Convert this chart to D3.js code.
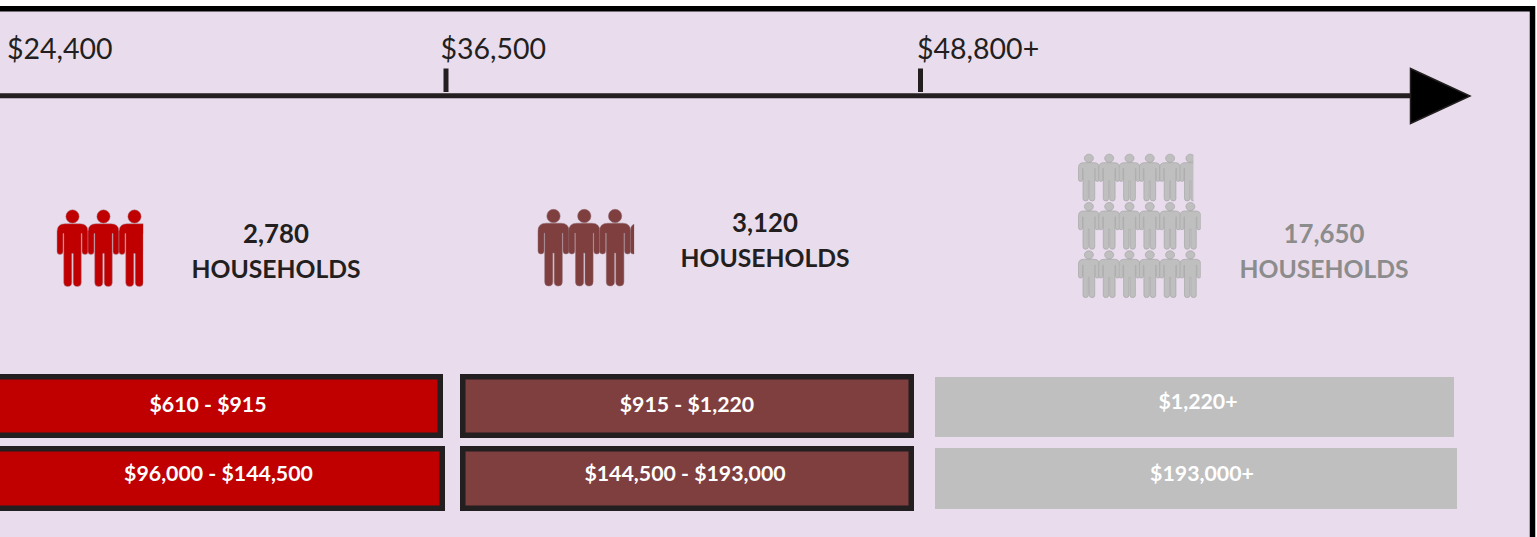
<!DOCTYPE html>
<html><head><meta charset="utf-8">
<script src="https://cdn.jsdelivr.net/npm/d3@7"></script>
<style>html,body{margin:0;padding:0;background:#fff;overflow:hidden}svg{display:block}text{font-family:Lato,"Open Sans",sans-serif}</style>
</head><body><div id="c"></div>
<script>
const tickLabels = ["$24,400","$36,500","$48,800+"];
const tickMarks = ["$36,500","$48,800+"];
const groups = ["low","mid","high"];
const households = [2780,3120,17650];
const rentLabels = ["$610 - $915","$915 - $1,220","$1,220+"];
const priceLabels = ["$96,000 - $144,500","$144,500 - $193,000","$193,000+"];
const unitPerIcon = 1000;

const W=1537,H=537;
const ink="#231f20";
const svg=d3.select("#c").append("svg").attr("width",W).attr("height",H);
const defs=svg.append("defs");

// frame
svg.append("rect").attr("x",-20).attr("y",8.75).attr("width",1552.5).attr("height",H+40)
  .attr("fill","#e9dded").attr("stroke","#000").attr("stroke-width",5.5);

// income axis
const xTickLabel=d3.scaleOrdinal().domain(tickLabels).range([7,440.5,917]);
const xTick=d3.scaleOrdinal().domain(tickMarks).range([446,920.5]);
const axisY=95.8;
svg.append("line").attr("x1",-5).attr("x2",1411).attr("y1",axisY).attr("y2",axisY).attr("stroke",ink).attr("stroke-width",5);
svg.selectAll(".tk").data(tickMarks).join("line").attr("class","tk")
  .attr("x1",d=>xTick(d)).attr("x2",d=>xTick(d)).attr("y1",68.5).attr("y2",92).attr("stroke",ink).attr("stroke-width",5);
svg.selectAll(".tl").data(tickLabels).join("text").attr("class","tl")
  .attr("x",d=>xTickLabel(d)).attr("y",59).attr("font-size",28.5).attr("fill",ink).text(d=>d);
svg.append("path").attr("d",d3.line()([[1410.5,68.5],[1410.5,123.5],[1470,96]])+"Z")
  .attr("fill","#000").attr("stroke",ink).attr("stroke-width",1.5);

// pictograms
const personPath=(()=>{ // unit figure 31 wide, 77 tall, origin at top-left
  const p=d3.path();
  p.moveTo(22.2,7);p.arc(15.5,7,6.7,0,2*Math.PI);p.closePath();
  p.moveTo(8,14.2);
  p.lineTo(23,14.2);
  p.quadraticCurveTo(31,14.2,31,22);
  p.lineTo(31,42);p.quadraticCurveTo(31,45,28,45);p.quadraticCurveTo(25,45,25,42);
  p.lineTo(25,24);p.lineTo(24.3,24);
  p.lineTo(24.3,73);p.quadraticCurveTo(24.3,77,20.4,77);p.quadraticCurveTo(16.2,77,16.2,73);
  p.lineTo(16.2,44);p.lineTo(14.8,44);
  p.lineTo(14.8,73);p.quadraticCurveTo(14.8,77,10.6,77);p.quadraticCurveTo(6.7,77,6.7,73);
  p.lineTo(6.7,24);p.lineTo(6,24);
  p.lineTo(6,42);p.quadraticCurveTo(6,45,3,45);p.quadraticCurveTo(0,45,0,42);
  p.lineTo(0,22);p.quadraticCurveTo(0,14.2,8,14.2);p.closePath();
  return p.toString();
})();

const iconX=d3.scaleOrdinal().domain(groups).range([57,538,1078.5]);
const iconY=d3.scaleOrdinal().domain(groups).range([209.5,209,154]);
const iconStepX=d3.scaleOrdinal().domain(groups).range([31,30.8,20.3]);
const iconStepY=d3.scaleOrdinal().domain(groups).range([0,0,48.3]);
const iconSX=d3.scaleOrdinal().domain(groups).range([1,1,0.67]);
const iconSY=d3.scaleOrdinal().domain(groups).range([1,1,0.61]);
const iconCols=d3.scaleOrdinal().domain(groups).range([3,4,6]);
const fill=d3.scaleOrdinal().domain(groups).range(["#c00000","#7f3f3f","#bfbfbf"]);
const edge=d3.scaleOrdinal().domain(groups).range(["#a98a94","#8c6a70","#a4a4a4"]);
const barStroke=d3.scaleOrdinal().domain(groups).range([ink,ink,"none"]);

groups.forEach((g,gi)=>{
  const n=households[gi]/unitPerIcon, total=Math.ceil(n), cols=iconCols(g);
  const layer=svg.append("g").attr("class","icons-"+g);
  d3.range(total).forEach(i=>{
    const partial=i===total-1;
    // when the icons wrap, the partial icon closes the top row
    const slot=total>cols?(partial?cols-1:(i<cols-1?i:i+1)):i;
    const col=slot%cols, row=Math.floor(slot/cols);
    const frac=partial?n-Math.floor(n):1;
    const x=iconX(g)+col*iconStepX(g), y=iconY(g)+row*iconStepY(g);
    const id=`clip-${g}-${i}`;
    defs.append("clipPath").attr("id",id).append("rect").attr("x",-1).attr("y",-2).attr("width",1+31*frac).attr("height",82);
    layer.append("g").attr("transform",`translate(${x},${y}) scale(${iconSX(g)},${iconSY(g)})`)
      .attr("clip-path",`url(#${id})`)
      .append("path").attr("d",personPath).attr("fill",fill(g))
      .attr("stroke",edge(g)).attr("stroke-width",g==="high"?1:0.5);
  });
});

// household counts
const countX=d3.scaleOrdinal().domain(groups).range([276,765,1324]);
const countY=d3.scaleOrdinal().domain(groups).range([243,232,243]);
const countFill=d3.scaleOrdinal().domain(groups).range([ink,ink,"#8c8c8c"]);
const hh=svg.append("g").attr("font-weight",700).attr("text-anchor","middle");
hh.selectAll(".n").data(groups).join("text").attr("class","n").attr("font-size",25.8).attr("x",d=>countX(d)).attr("y",d=>countY(d))
  .attr("fill",d=>countFill(d)).text((d,i)=>d3.format(",")(households[i]));
hh.selectAll(".u").data(groups).join("text").attr("class","u").attr("font-size",24.7).attr("x",d=>countX(d)).attr("y",d=>countY(d)+35)
  .attr("fill",d=>countFill(d)).text("HOUSEHOLDS");

// bands
const rentBand=d3.scaleOrdinal().domain(groups).range([[-27,443,374,438],[460,914,374,438],[935,1454,377,437]]);
const priceBand=d3.scaleOrdinal().domain(groups).range([[-8,445,446,511],[460,914,446,511],[935,1457,448,509]]);
const rentText=d3.scaleOrdinal().domain(groups).range([208,687,1198]);
const priceText=d3.scaleOrdinal().domain(groups).range([218.5,685,1202]);
const rentBase=d3.scaleOrdinal().domain(groups).range([412,412,408.5]);
const priceBase=d3.scaleOrdinal().domain(groups).range([481,481,481]);

function band(labels,scale,tx,ty){
  const gg=svg.append("g");
  groups.forEach((g,i)=>{
    const [x0,x1,y0,y1]=scale(g), sw=g==="high"?0:5.5;
    gg.append("rect").attr("x",x0+sw/2).attr("y",y0+sw/2).attr("width",x1-x0-sw).attr("height",y1-y0-sw)
      .attr("fill",fill(g)).attr("stroke",barStroke(g)).attr("stroke-width",sw);
    gg.append("text").attr("x",tx(g)).attr("y",ty(g)).attr("text-anchor","middle")
      .attr("font-weight",700).attr("font-size",21.3).attr("fill","#fff").text(labels[i]);
  });
}
band(rentLabels,rentBand,rentText,rentBase);
band(priceLabels,priceBand,priceText,priceBase);
</script></body></html>
